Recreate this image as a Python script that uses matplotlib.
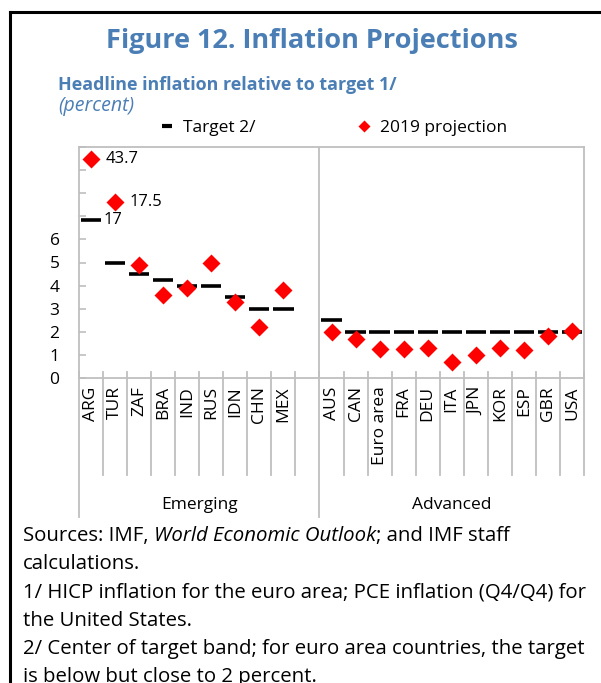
import numpy as np
import matplotlib
matplotlib.use("Agg")
import matplotlib.pyplot as plt
from matplotlib.lines import Line2D

plt.rcParams['font.family'] = ['Open Sans', 'DejaVu Sans']

# ---------------- data ----------------
emerging = ['ARG', 'TUR', 'ZAF', 'BRA', 'IND', 'RUS', 'IDN', 'CHN', 'MEX']
em_target = [17, 5, 4.5, 4.25, 4, 4, 3.5, 3, 3]
em_proj = [43.7, 17.5, 4.9, 3.6, 3.9, 5.0, 3.3, 2.2, 3.8]

advanced = ['AUS', 'CAN', 'Euro area', 'FRA', 'DEU', 'ITA', 'JPN', 'KOR', 'ESP', 'GBR', 'USA']
adv_target = [2.5, 2, 2, 2, 2, 2, 2, 2, 2, 2, 2]
adv_proj = [2.0, 1.7, 1.25, 1.25, 1.3, 0.7, 1.0, 1.3, 1.2, 1.8, 2.05]

groups = ['Emerging', 'Advanced']
ytick_vals = [0, 1, 2, 3, 4, 5, 6]

# off-scale values are drawn above the 0-6 scale (broken axis)
break_values = [0, 6, 17, 17.5, 43.7]
break_levels = [0, 6, 6.85, 7.6, 9.5]

title = 'Figure 12. Inflation Projections'
subtitle = 'Headline inflation relative to target 1/'
units = '(percent)'
legend_labels = ['Target 2/', '2019 projection']
notes = [
    [('Sources: IMF, ', 'normal'), ('World Economic Outlook', 'italic'), ('; and IMF staff', 'normal')],
    [('calculations.', 'normal')],
    [('1/ HICP inflation for the euro area; PCE inflation (Q4/Q4) for', 'normal')],
    [('the United States.', 'normal')],
    [('2/ Center of target band; for euro area countries, the target', 'normal')],
    [('is below but close to 2 percent.', 'normal')],
]

# ---------------- figure ----------------
W, H = 601, 683
fig = plt.figure(figsize=(W / 100, H / 100), dpi=100)
renderer = fig.canvas.get_renderer()
BLUE = '#4A7EB5'
GRAY = '#BFBFBF'

def fx(px):
    return px / W

def fy(py):
    return 1 - py / H

def fit(t, width_px):
    bb = t.get_window_extent(renderer)
    t.set_fontsize(t.get_fontsize() * width_px / bb.width)

# frame lines (black border left/top)
fig.add_artist(Line2D([fx(10), fx(10)], [fy(12), fy(H + 2)], color='black', lw=2.2))
fig.add_artist(Line2D([fx(10), fx(W + 2)], [fy(12), fy(12)], color='black', lw=2.2))

# titles
t = fig.text(fx(312), fy(48), title, ha='center', va='baseline', color=BLUE,
             fontweight='bold', fontsize=19)
fit(t, 412)
t = fig.text(fx(58), fy(90), subtitle, ha='left', va='baseline', color=BLUE,
             fontweight='bold', fontsize=13)
fit(t, 336)
t = fig.text(fx(58), fy(111), units, ha='left', va='baseline', color=BLUE,
             style='italic', fontsize=12)
fit(t, 76)

# axes
x0, x1, ytop, ybot = 79, 584, 147, 378
ax = fig.add_axes([fx(x0), fy(ybot), fx(x1 - x0), (ybot - ytop) / H])

n_em, n_adv = len(emerging), len(advanced)
x_em = np.arange(n_em)
x_adv = np.arange(n_adv) + n_em + 1
n_slots = n_em + 1 + n_adv
x_all = np.concatenate([x_em, x_adv])
labels_all = emerging + advanced
tgt = np.array(em_target + adv_target, dtype=float)
prj = np.array(em_proj + adv_proj, dtype=float)

def disp(v):
    return np.interp(v, break_values, break_levels)

ax.hlines(disp(tgt), x_all - 0.42, x_all + 0.42, color='black', lw=2.6, zorder=3)
ax.plot(x_all, disp(prj), 'D', color='red', ms=9, mec='none', zorder=4, ls='none')

for xv, v in zip(x_all, prj):
    if v > break_values[1]:
        ax.annotate(f'{v:g}', (xv, disp(v)), xytext=(10.5, 0), textcoords='offset points',
                    va='center', ha='left', fontsize=12)
for xv, v in zip(x_all, tgt):
    if v > break_values[1]:
        ax.annotate(f'{v:g}', (xv + 0.42, disp(v)), xytext=(2, 0), textcoords='offset points',
                    va='center', ha='left', fontsize=12)

ax.set_xlim(-0.5, n_slots - 0.5)
ax.set_ylim(0, 10)
ax.set_yticks(np.arange(0, 11))
ax.set_yticklabels([str(v) if v in ytick_vals else '' for v in range(11)])
ax.tick_params(axis='y', direction='in', length=5, width=1.2, color=GRAY, pad=14,
               labelsize=12.5)
ax.set_xticks(x_all)
ax.set_xticklabels(labels_all, rotation=90, va='top', ha='center', fontsize=12.5)
ax.tick_params(axis='x', length=0, pad=6)
for s in ax.spines.values():
    s.set_color(GRAY)
    s.set_linewidth(1.3)

# group divider inside plot
div = n_em + 0.5
ax.axvline(div, color=GRAY, lw=1.3, zorder=1)

# slot separators below axis
ax_h = ybot - ytop
short = -(475 - ybot) / ax_h
long_ = -(517 - ybot) / ax_h
trans = ax.get_xaxis_transform()
for k in range(n_slots + 1):
    xb = -0.5 + k
    is_long = (k == 0) or abs(xb - div) < 1e-9
    y_low = long_ if is_long else short
    ax.add_line(Line2D([xb, xb], [y_low, 0.025], transform=trans, color=GRAY,
                       lw=1.3, clip_on=False))

# group labels
ax.text((-0.5 + div) / 2, -(505 - ybot) / ax_h, groups[0], transform=trans,
        ha='center', va='center', fontsize=12.5)
ax.text((div + n_slots - 0.5) / 2, -(505 - ybot) / ax_h, groups[1], transform=trans,
        ha='center', va='center', fontsize=12.5)

# legend
handles = [Line2D([], [], color='black', marker='_', ms=7, mew=3, ls='none'),
           Line2D([], [], color='red', marker='D', ms=6, mec='none', ls='none')]
ax.legend(handles, legend_labels, ncol=2, loc='center left',
          bbox_to_anchor=(fx(160), fy(128)), bbox_transform=fig.transFigure,
          frameon=False, fontsize=12.5, handlelength=0.8, handletextpad=0.5,
          columnspacing=5.9, borderpad=0, borderaxespad=0)

# notes
probe = fig.text(0, 0, notes[2][0][0], fontsize=13.5)
bb = probe.get_window_extent(renderer)
note_size = 13.5 * 563 / bb.width
probe.remove()

def text_w(s, style):
    tt = fig.text(0, 0, 'x' + s + 'x', fontsize=note_size, style=style)
    w1 = tt.get_window_extent(renderer).width
    tt.set_text('xx')
    w0 = tt.get_window_extent(renderer).width
    tt.remove()
    return w1 - w0

baseline0, step = 541, 28.2
for i, parts in enumerate(notes):
    xp = 23
    for s, style in parts:
        fig.text(fx(xp), fy(baseline0 + i * step), s, fontsize=note_size, style=style,
                 ha='left', va='baseline')
        xp += text_w(s, style)

fig.savefig('out.png', dpi=100)
